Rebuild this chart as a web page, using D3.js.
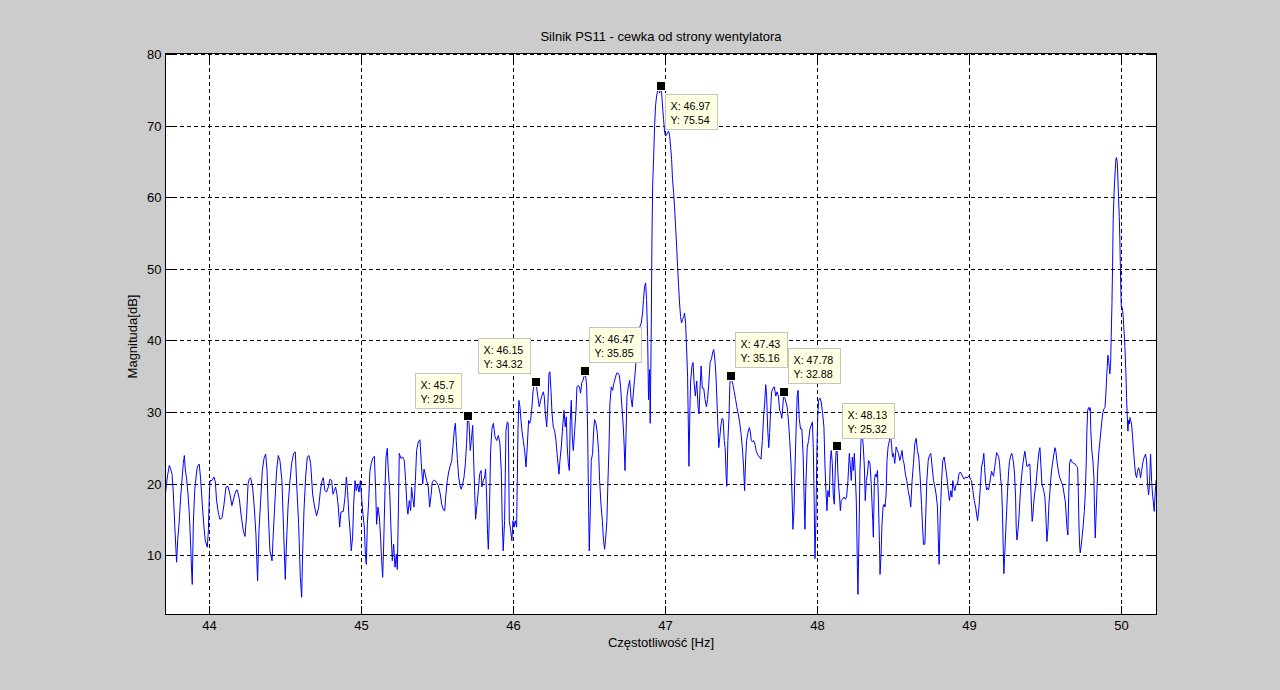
<!DOCTYPE html>
<html><head><meta charset="utf-8">
<script src="https://cdn.jsdelivr.net/npm/d3@7"></script>
<style>
html,body{margin:0;padding:0;background:#cccccc;overflow:hidden}
text{font-family:"Liberation Sans",Arial,Helvetica,sans-serif;fill:#000}
</style>
</head><body>
<svg id="chart" width="1280" height="690"></svg>
<script>
// ---------- data ----------
const xTicks = [44, 45, 46, 47, 48, 49, 50];
const yTicks = [10, 20, 30, 40, 50, 60, 70, 80];
const titleText = "Silnik PS11 - cewka od strony wentylatora";
const xLabelText = "Częstotliwość [Hz]";
const yLabelText = "Magnituda[dB]";

const freqHz = [
43.711,43.724,43.737,43.746,43.755,43.763,43.772,43.781,43.785,43.792,
43.801,43.812,43.820,43.829,43.836,43.842,43.851,43.860,43.869,43.878,
43.884,43.888,43.895,43.904,43.913,43.921,43.934,43.943,43.954,43.965,
43.974,43.987,43.994,44.000,44.005,44.018,44.031,44.040,44.048,44.059,
44.070,44.084,44.097,44.110,44.123,44.136,44.149,44.163,44.176,44.184,
44.198,44.211,44.224,44.235,44.246,44.255,44.263,44.272,44.285,44.296,
44.307,44.314,44.318,44.327,44.338,44.349,44.360,44.371,44.380,44.388,
44.399,44.413,44.421,44.430,44.443,44.454,44.465,44.478,44.489,44.500,
44.507,44.518,44.531,44.542,44.555,44.566,44.577,44.588,44.599,44.608,
44.614,44.623,44.634,44.645,44.656,44.667,44.680,44.693,44.706,44.720,
44.731,44.742,44.750,44.761,44.772,44.783,44.794,44.805,44.814,44.823,
44.831,44.840,44.849,44.858,44.866,44.882,44.893,44.902,44.910,44.919,
44.928,44.934,44.943,44.950,44.959,44.967,44.976,44.985,44.994,45.002,
45.011,45.020,45.027,45.033,45.040,45.049,45.057,45.066,45.075,45.086,
45.095,45.101,45.110,45.119,45.127,45.134,45.141,45.147,45.156,45.163,
45.171,45.178,45.187,45.195,45.204,45.213,45.222,45.231,45.237,45.244,
45.250,45.261,45.272,45.283,45.292,45.301,45.307,45.316,45.325,45.331,
45.338,45.347,45.356,45.364,45.375,45.386,45.395,45.404,45.413,45.421,
45.430,45.441,45.450,45.459,45.467,45.481,45.494,45.507,45.520,45.529,
45.540,45.549,45.557,45.566,45.575,45.586,45.595,45.603,45.612,45.619,
45.625,45.632,45.641,45.649,45.658,45.667,45.676,45.685,45.693,45.700,
45.709,45.717,45.724,45.733,45.739,45.746,45.752,45.761,45.770,45.779,
45.788,45.794,45.803,45.812,45.818,45.825,45.831,45.836,45.842,45.851,
45.860,45.869,45.880,45.891,45.902,45.912,45.921,45.928,45.934,45.943,
45.952,45.961,45.967,45.974,45.983,45.991,45.998,46.005,46.013,46.022,
46.031,46.037,46.044,46.051,46.057,46.066,46.075,46.084,46.092,46.101,
46.108,46.114,46.123,46.130,46.138,46.145,46.150,46.156,46.162,46.171,
46.180,46.189,46.198,46.204,46.211,46.220,46.228,46.235,46.241,46.248,
46.255,46.263,46.272,46.281,46.288,46.294,46.301,46.307,46.316,46.325,
46.334,46.342,46.349,46.355,46.362,46.369,46.375,46.382,46.388,46.395,
46.404,46.413,46.419,46.428,46.437,46.443,46.450,46.459,46.465,46.470,
46.478,46.483,46.489,46.496,46.500,46.507,46.513,46.522,46.529,46.535,
46.544,46.553,46.562,46.568,46.577,46.586,46.594,46.601,46.610,46.616,
46.623,46.630,46.636,46.645,46.654,46.662,46.671,46.680,46.689,46.698,
46.706,46.715,46.724,46.730,46.735,46.741,46.748,46.757,46.766,46.776,
46.783,46.790,46.798,46.807,46.816,46.825,46.833,46.842,46.851,46.857,
46.864,46.871,46.877,46.884,46.890,46.897,46.901,46.908,46.912,46.917,
46.923,46.930,46.936,46.943,46.950,46.956,46.963,46.970,46.976,46.982,
46.989,46.996,47.002,47.009,47.015,47.022,47.029,47.035,47.042,47.048,
47.055,47.061,47.068,47.075,47.081,47.088,47.094,47.101,47.107,47.114,
47.121,47.127,47.134,47.140,47.147,47.156,47.162,47.167,47.176,47.183,
47.189,47.198,47.207,47.216,47.222,47.229,47.236,47.244,47.253,47.262,
47.271,47.278,47.286,47.295,47.304,47.313,47.319,47.326,47.333,47.339,
47.346,47.352,47.359,47.366,47.374,47.381,47.388,47.394,47.401,47.405,
47.412,47.419,47.425,47.430,47.445,47.454,47.463,47.471,47.480,47.489,
47.498,47.507,47.515,47.522,47.529,47.535,47.544,47.553,47.559,47.566,
47.573,47.581,47.590,47.599,47.608,47.619,47.630,47.639,47.648,47.654,
47.661,47.667,47.674,47.681,47.687,47.694,47.700,47.709,47.717,47.727,
47.736,47.744,47.753,47.762,47.767,47.774,47.780,47.786,47.802,47.811,
47.819,47.828,47.835,47.840,47.847,47.854,47.861,47.868,47.874,47.881,
47.890,47.899,47.907,47.914,47.919,47.925,47.934,47.943,47.952,47.960,
47.968,47.974,47.980,47.985,47.991,47.998,48.004,48.009,48.018,48.026,
48.035,48.044,48.051,48.057,48.064,48.070,48.079,48.086,48.092,48.099,
48.105,48.112,48.119,48.125,48.130,48.136,48.141,48.147,48.152,48.158,
48.167,48.176,48.185,48.193,48.202,48.211,48.218,48.224,48.231,48.237,
48.244,48.251,48.257,48.264,48.268,48.275,48.281,48.288,48.295,48.303,
48.310,48.316,48.323,48.330,48.338,48.347,48.356,48.365,48.369,48.376,
48.382,48.389,48.396,48.402,48.409,48.413,48.420,48.426,48.433,48.440,
48.446,48.453,48.459,48.466,48.475,48.481,48.488,48.495,48.501,48.510,
48.519,48.527,48.534,48.543,48.549,48.558,48.565,48.571,48.580,48.589,
48.598,48.607,48.615,48.624,48.633,48.642,48.651,48.659,48.668,48.677,
48.686,48.692,48.699,48.708,48.714,48.721,48.730,48.738,48.747,48.756,
48.765,48.774,48.782,48.791,48.798,48.802,48.809,48.818,48.826,48.835,
48.844,48.853,48.862,48.870,48.879,48.886,48.892,48.899,48.905,48.914,
48.923,48.932,48.941,48.949,48.958,48.967,48.976,48.985,48.993,49.000,
49.007,49.015,49.024,49.033,49.042,49.051,49.055,49.064,49.073,49.081,
49.090,49.096,49.101,49.107,49.114,49.121,49.127,49.134,49.140,49.147,
49.154,49.160,49.167,49.173,49.180,49.186,49.193,49.200,49.206,49.213,
49.219,49.224,49.228,49.232,49.239,49.246,49.252,49.259,49.265,49.272,
49.279,49.285,49.292,49.298,49.305,49.309,49.314,49.320,49.327,49.333,
49.340,49.346,49.353,49.360,49.366,49.373,49.379,49.386,49.393,49.399,
49.406,49.410,49.414,49.419,49.425,49.432,49.439,49.445,49.452,49.458,
49.465,49.471,49.478,49.485,49.491,49.498,49.504,49.511,49.518,49.524,
49.531,49.537,49.544,49.550,49.557,49.564,49.570,49.577,49.583,49.590,
49.596,49.605,49.612,49.618,49.625,49.632,49.638,49.643,49.649,49.654,
49.660,49.667,49.673,49.680,49.689,49.697,49.706,49.713,49.717,49.722,
49.726,49.730,49.737,49.743,49.750,49.757,49.763,49.770,49.774,49.779,
49.785,49.792,49.796,49.800,49.807,49.814,49.820,49.825,49.829,49.833,
49.840,49.846,49.853,49.860,49.866,49.873,49.879,49.886,49.893,49.899,
49.904,49.908,49.912,49.917,49.921,49.925,49.930,49.934,49.939,49.943,
49.947,49.952,49.956,49.961,49.965,49.969,49.974,49.978,49.982,49.987,
49.991,49.996,50.000,50.004,50.009,50.013,50.018,50.024,50.031,50.035,
50.039,50.044,50.048,50.053,50.057,50.061,50.068,50.075,50.081,50.088,
50.094,50.101,50.107,50.114,50.121,50.127,50.134,50.140,50.147,50.154,
50.160,50.167,50.173,50.180,50.186,50.193,50.200,50.206,50.211,50.217,
50.224,50.230
];

const magDb = [
18.6,21.0,22.6,22.1,21.4,18.9,14.7,10.7,9.1,12.1,
14.4,18.2,20.5,22.9,24.0,22.1,20.7,18.6,15.8,11.2,
7.7,6.0,14.4,19.1,21.0,22.4,22.8,20.7,17.2,14.0,
12.1,11.2,13.5,18.2,20.5,20.5,21.0,20.3,17.7,16.1,
15.1,15.3,17.2,19.6,19.7,18.6,17.0,18.2,19.1,19.2,
17.9,15.4,13.5,12.7,15.8,20.0,20.7,20.9,19.6,16.8,
13.0,8.6,6.5,13.5,17.7,21.9,23.6,24.2,21.9,16.3,
10.7,9.3,13.0,16.8,21.9,24.0,23.3,20.5,13.5,6.7,
11.2,16.8,20.5,22.9,24.3,24.5,19.1,14.4,7.0,4.2,
10.2,16.3,21.0,23.8,24.0,22.9,18.6,16.8,15.6,16.8,
19.1,20.5,20.9,19.1,18.9,19.6,20.7,20.5,18.6,19.1,
19.6,18.6,16.8,14.0,16.1,16.2,18.2,21.0,19.1,15.4,
13.0,10.7,12.6,17.2,20.5,19.1,20.0,18.9,20.5,18.2,
15.8,14.0,10.2,8.8,14.4,17.7,21.9,22.9,23.6,23.9,
19.1,14.4,16.8,15.4,12.6,9.3,7.0,11.2,19.1,23.8,
25.0,21.9,19.1,14.0,9.3,11.6,8.4,10.2,8.1,15.8,
24.3,23.6,23.8,23.3,20.5,16.8,15.8,17.7,16.3,19.6,
18.2,16.8,20.5,24.7,25.9,26.2,22.9,20.0,22.1,21.4,
20.5,19.6,16.8,18.4,20.3,20.6,20.3,19.8,18.6,17.2,
16.4,16.3,18.6,20.5,21.7,22.6,23.3,25.2,27.5,28.5,
26.1,23.6,21.0,19.8,19.3,20.0,21.0,22.9,25.7,29.5,
28.5,24.7,26.1,28.2,23.8,19.1,15.1,17.0,19.1,21.4,
21.9,19.6,20.5,21.0,22.1,18.2,13.0,10.9,14.9,24.7,
27.8,28.5,26.6,26.1,26.8,25.7,21.9,14.4,10.7,14.9,
27.5,28.7,28.5,14.9,13.5,12.1,14.9,14.0,14.9,14.0,
27.5,31.7,30.8,28.9,27.5,26.1,24.7,22.4,25.2,28.9,
28.5,28.9,30.8,32.9,34.1,34.0,34.32,33.1,32.2,30.8,
31.7,32.4,32.9,32.2,29.9,28.0,31.3,35.5,35.7,33.1,
29.9,28.0,27.5,26.1,24.3,22.9,21.4,23.3,25.2,28.0,
30.3,28.0,29.4,25.2,22.9,21.9,28.9,31.7,26.6,24.7,
27.5,30.3,33.6,33.8,33.4,32.7,34.1,34.5,35.0,35.85,
34.8,33.6,28.0,16.3,10.7,16.3,23.3,24.3,27.5,29.0,
28.5,27.1,24.3,20.5,17.2,14.9,12.1,10.9,13.0,14.9,
20.5,25.2,31.3,33.6,33.1,34.1,34.8,35.5,35.5,35.2,
33.6,30.8,28.0,25.2,21.9,26.1,32.2,33.6,34.5,31.8,
30.8,32.7,34.6,36.9,38.8,40.2,42.0,42.5,43.9,45.8,
47.6,48.1,45.8,40.6,31.8,36.0,28.5,42.0,53.2,61.6,
65.3,70.0,72.8,74.2,74.9,75.2,74.6,75.54,74.7,72.8,
70.9,69.1,68.6,68.8,69.1,69.3,68.6,67.2,65.3,62.5,
60.7,58.8,56.0,53.2,50.4,47.6,45.3,43.4,42.5,43.0,
43.4,43.9,42.5,39.2,35.0,22.5,30.3,34.4,36.5,37.0,
34.4,32.3,34.4,30.8,29.8,33.4,36.5,33.4,33.4,31.8,
30.8,31.8,33.9,37.0,37.5,38.5,38.8,37.5,35.4,32.3,
28.2,25.1,26.6,28.2,29.2,29.0,26.1,25.1,21.0,19.7,
26.1,29.2,33.9,35.16,33.9,32.9,31.8,30.8,29.8,28.7,
27.2,25.1,22.5,19.1,23.5,26.1,27.2,27.9,27.4,26.1,
25.9,26.1,25.6,24.6,24.1,23.8,23.5,26.1,29.8,31.3,
33.9,32.3,27.7,25.1,27.2,30.8,32.9,33.4,33.6,32.3,
32.9,32.3,30.3,29.8,29.2,31.0,32.88,32.1,30.8,28.7,
26.1,22.5,17.9,13.7,16.3,22.5,27.7,32.3,33.1,29.2,
27.7,27.7,24.1,17.9,13.7,19.9,25.1,26.1,27.7,28.2,
28.7,25.1,17.3,9.6,14.8,25.1,29.8,31.7,32.0,31.5,
29.9,28.0,22.4,19.1,16.3,19.1,18.2,23.3,24.7,22.9,
18.6,17.2,22.4,24.8,25.32,21.4,19.6,18.2,16.3,17.7,
17.9,18.2,17.9,18.2,20.5,24.3,22.4,20.5,23.8,21.9,
24.3,21.0,17.7,8.4,4.6,13.5,21.9,26.1,27.5,25.2,
22.4,17.7,20.5,21.4,23.3,22.9,19.6,14.9,12.6,20.5,
21.4,21.0,21.9,18.2,12.1,7.4,10.2,14.4,16.8,17.2,
16.8,18.6,23.3,25.2,26.1,27.1,25.7,23.8,24.3,22.9,
25.2,24.7,24.3,23.3,23.8,24.7,23.3,22.9,21.4,20.5,
19.1,18.2,16.8,20.5,22.9,25.7,26.4,24.7,23.8,21.0,
17.2,14.4,11.6,11.6,15.8,20.5,23.3,24.0,24.3,22.4,
20.5,19.6,18.6,16.8,11.2,8.8,15.4,20.5,23.3,23.8,
22.4,21.0,19.1,17.7,19.1,18.2,20.5,19.6,19.1,20.0,
20.0,21.4,21.7,21.4,21.0,20.7,21.0,20.9,21.0,21.2,
20.7,20.5,19.1,17.7,16.8,15.4,14.9,16.8,19.6,22.4,
23.3,24.3,22.3,20.4,19.2,19.5,19.2,20.0,20.9,21.8,
21.4,21.1,22.3,23.2,24.4,24.2,23.9,22.8,20.9,19.5,
15.7,10.6,7.5,9.6,12.9,16.2,19.0,21.8,23.2,23.9,
24.3,23.9,22.8,21.4,18.1,13.9,12.2,13.4,15.3,17.6,
20.0,21.4,22.8,23.9,24.6,23.5,22.5,22.5,22.8,22.8,
19.0,16.7,14.8,15.7,17.6,19.0,20.0,21.4,23.2,24.4,
25.1,22.8,20.0,19.5,19.0,18.1,15.7,12.0,13.9,17.2,
19.0,20.9,22.3,23.2,24.2,25.1,24.6,23.2,22.3,21.4,
20.9,20.4,20.0,19.5,18.5,17.6,15.7,13.9,12.9,18.1,
22.8,23.5,23.2,23.0,22.9,22.8,22.5,22.3,19.5,14.3,
11.5,10.4,11.5,12.7,14.3,16.2,18.5,23.2,27.4,30.3,
30.7,30.3,30.7,27.4,24.6,23.2,20.9,15.7,12.5,14.8,
19.0,22.3,24.6,26.0,27.4,28.9,30.0,30.5,30.7,32.6,
35.0,36.4,38.0,37.3,36.4,35.4,36.8,40.6,45.2,50.4,
57.0,60.2,62.1,64.0,65.4,65.6,64.9,62.6,60.2,57.4,
54.1,48.5,44.8,44.8,44.3,43.4,41.5,39.2,35.4,32.1,
29.8,27.4,28.9,28.4,29.3,28.9,28.4,26.5,24.6,22.8,
21.4,20.9,21.8,22.3,21.8,20.9,21.8,22.8,23.5,23.9,
24.2,23.2,20.0,18.5,20.0,24.2,20.4,18.5,17.6,16.2,
19.0,20.6
];

// data tips shown on the figure
const tipX = [45.7, 46.15, 46.47, 46.97, 47.43, 47.78, 48.13];
const tipY = [29.5, 34.32, 35.85, 75.54, 35.16, 32.88, 25.32];
const tipPlacement = ["ul", "ul", "ur", "dr", "ur", "ur", "ur"];

// ---------- layout ----------
const W = 1280, H = 690;
const L = 165.5, R = 1156.5, T = 54.5, B = 614.5;
const svg = d3.select("#chart");
svg.append("rect").attr("width", W).attr("height", H).attr("fill", "#cccccc");

const x = d3.scaleLinear().domain([43.712, 50.232]).range([L, R]);
const y = d3.scaleLinear().domain([1.8, 80]).range([B, T]);
const snap = v => Math.round(v - 0.5) + 0.5;

// plot background
svg.append("rect").attr("x", L).attr("y", T - 1).attr("width", R - L).attr("height", B - T + 1)
  .attr("fill", "#ffffff");

// grid
const grid = svg.append("g").attr("stroke", "#000").attr("stroke-width", 1)
  .attr("stroke-dasharray", "4,3").attr("shape-rendering", "crispEdges");
grid.selectAll("line.gx").data(xTicks).join("line").attr("class", "gx")
  .attr("x1", d => snap(x(d))).attr("x2", d => snap(x(d))).attr("y1", T - 1).attr("y2", B);
grid.selectAll("line.gy").data(yTicks).join("line").attr("class", "gy")
  .attr("y1", d => snap(y(d))).attr("y2", d => snap(y(d))).attr("x1", L).attr("x2", R);

// clip
svg.append("clipPath").attr("id", "clip").append("rect")
  .attr("x", L).attr("y", T - 1).attr("width", R - L).attr("height", B - T + 1);

// spectrum line
const pts = freqHz.map((f, i) => [f, magDb[i]]);
const line = d3.line().x(d => x(d[0])).y(d => y(d[1]));
svg.append("path").datum(pts).attr("d", line).attr("clip-path", "url(#clip)")
  .attr("fill", "none").attr("stroke", "#0000ff").attr("stroke-width", 1)
  .attr("stroke-linejoin", "miter");

// frame
svg.append("rect").attr("x", L).attr("y", T - 1).attr("width", R - L).attr("height", B - T + 1)
  .attr("fill", "none").attr("stroke", "#000").attr("stroke-width", 1).attr("shape-rendering", "crispEdges");

// axes (ticks inward, labels outside) using d3 axes
const tickLen = 9;
const xAxisB = d3.axisBottom(x).tickValues(xTicks).tickSize(-tickLen).tickPadding(6).tickFormat(d3.format("d"));
const xAxisT = d3.axisTop(x).tickValues(xTicks).tickSize(-tickLen).tickFormat("");
const yAxisL = d3.axisLeft(y).tickValues(yTicks).tickSize(-tickLen).tickPadding(4).tickFormat(d3.format("d"));
const yAxisR = d3.axisRight(y).tickValues(yTicks).tickSize(-tickLen).tickFormat("");

function styleAxis(g) {
  g.select(".domain").remove();
  g.selectAll(".tick line").attr("stroke", "#000").attr("shape-rendering", "crispEdges");
  g.selectAll(".tick text").attr("fill", "#000").attr("font-size", "13px")
    .attr("font-family", '"Liberation Sans", Arial, Helvetica, sans-serif');
}
svg.append("g").attr("transform", `translate(0,${B})`).call(xAxisB).call(styleAxis)
  .selectAll(".tick").attr("transform", d => `translate(${snap(x(d))},0)`);
svg.append("g").attr("transform", `translate(0,${T - 1})`).call(xAxisT).call(styleAxis)
  .selectAll(".tick").attr("transform", d => `translate(${snap(x(d))},0)`);
svg.append("g").attr("transform", `translate(${L},0)`).call(yAxisL).call(styleAxis)
  .selectAll(".tick").attr("transform", d => `translate(0,${snap(y(d))})`);
svg.append("g").attr("transform", `translate(${R},0)`).call(yAxisR).call(styleAxis)
  .selectAll(".tick").attr("transform", d => `translate(0,${snap(y(d))})`);

// titles
svg.append("text").attr("x", (L + R) / 2).attr("y", 41).attr("text-anchor", "middle")
  .attr("font-size", "13px").text(titleText);
svg.append("text").attr("x", (L + R) / 2).attr("y", 647).attr("text-anchor", "middle")
  .attr("font-size", "13px").text(xLabelText);
svg.append("text").attr("transform", `translate(137,${(T + B) / 2 + 2}) rotate(-90)`)
  .attr("text-anchor", "middle").attr("font-size", "13px").text(yLabelText);

// data tips
const tipsG = svg.append("g");
tipX.forEach((tx, i) => {
  const mx = x(tx), my = y(tipY[i]);
  const g = tipsG.append("g");
  const rect = g.append("rect");
  const t1 = g.append("text").attr("font-size", "10.7px").text("X: " + tx);
  const t2 = g.append("text").attr("font-size", "10.7px").text("Y: " + tipY[i]);
  const tw = Math.max(t1.node().getComputedTextLength(), t2.node().getComputedTextLength());
  const bw = Math.round(tw + 12), bh = 35;
  const place = tipPlacement[i];
  let bx, by;
  if (place === "ul") { bx = mx - 6 - bw; by = my - 8 - bh; }
  else if (place === "ur") { bx = mx + 5; by = my - 8 - bh; }
  else { bx = mx + 5; by = my + 8; }
  bx = snap(bx); by = snap(by);
  rect.attr("x", bx).attr("y", by).attr("width", bw).attr("height", bh)
    .attr("fill", "#ffffe1").attr("stroke", "#c4c4c4").attr("stroke-width", 1)
    .attr("shape-rendering", "crispEdges");
  t1.attr("x", bx + 5).attr("y", by + 15);
  t2.attr("x", bx + 5).attr("y", by + 29);
  g.append("rect").attr("x", Math.round(mx) - 5).attr("y", Math.round(my) - 5)
    .attr("width", 10).attr("height", 10).attr("fill", "#ffffe1").attr("shape-rendering", "crispEdges");
  g.append("rect").attr("x", Math.round(mx) - 4).attr("y", Math.round(my) - 4)
    .attr("width", 8).attr("height", 8).attr("fill", "#000").attr("shape-rendering", "crispEdges");
});
if (freqHz.length !== magDb.length) console.error("length mismatch", freqHz.length, magDb.length);
</script>
</body></html>
